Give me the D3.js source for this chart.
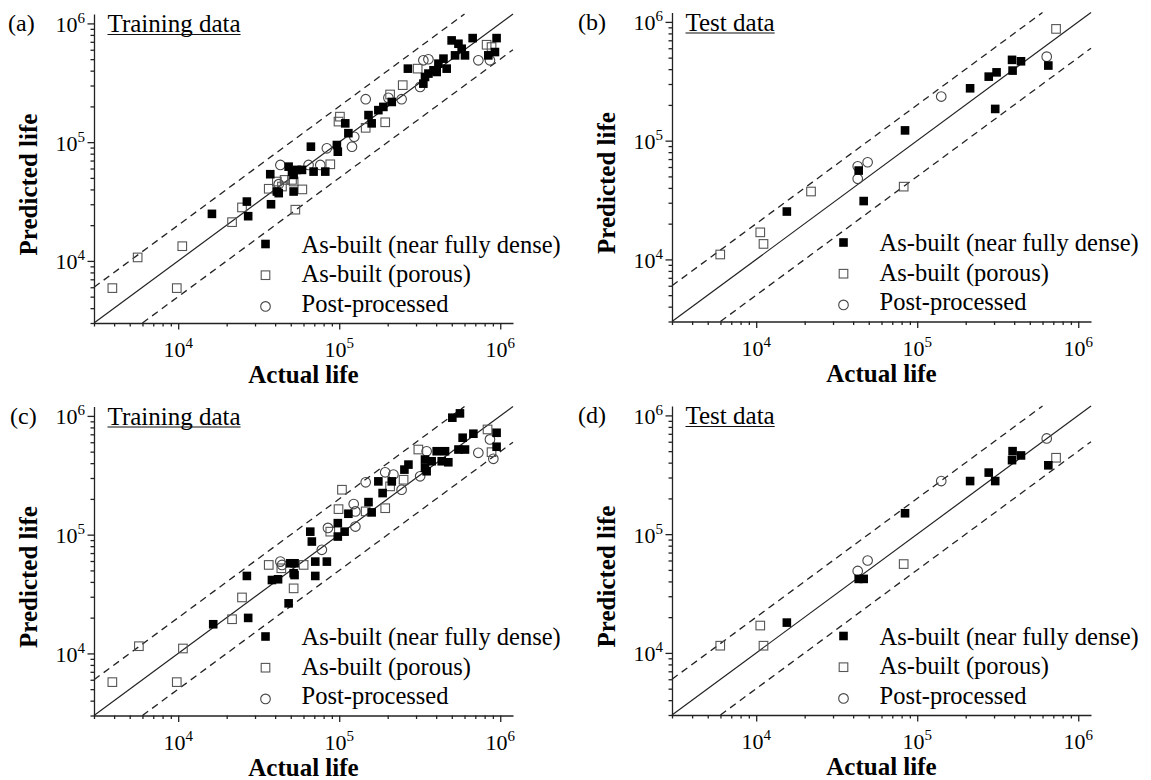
<!DOCTYPE html>
<html lang="en">
<head>
<meta charset="UTF-8">
<title>Actual vs predicted life</title>
<script src="https://d3js.org/d3.v7.min.js"></script>
<style>
  body { margin: 0; background: #fff; }
  svg text { font-family: "Liberation Serif", "Times New Roman", Times, "DejaVu Serif", serif; fill: #000; }
</style>
</head>
<body>
<svg id="chart" width="1151" height="780"></svg>
<script>
// each point is [actual life, predicted life] (cycles)

// (a) training data
var aDense = [[16200, 24900], [26700, 31600], [27200, 23800], [37700, 30000], [41000, 38400],
  [42100, 37200], [52100, 38400], [37300, 53700], [48500, 62200], [52100, 53000], [50900, 56500],
  [54600, 58400], [58700, 58400], [69300, 56500], [81900, 56500], [66700, 91600], [96700, 94600],
  [98000, 83100], [114000, 119000], [109000, 144000], [152000, 169000], [159000, 144000],
  [175000, 186000], [188000, 198000], [212000, 218000], [267000, 416000], [333000, 311000],
  [341000, 354000], [358000, 378000], [385000, 403000], [403000, 390000], [413000, 458000],
  [444000, 505000], [465000, 416000], [499000, 719000], [550000, 674000], [576000, 612000],
  [524000, 538000], [604000, 538000], [674000, 752000], [949000, 752000], [927000, 574000],
  [843000, 538000]];
var aPorous = [[3900, 5900], [5600, 10700], [9800, 5900], [10600, 13300], [21600, 21200],
  [24900, 28200], [36500, 40500], [53400, 27000], [52100, 46600], [41000, 46600], [45800, 48100],
  [50900, 48100], [44100, 42300], [59000, 40000], [88000, 65100], [101000, 164000], [99000, 149000],
  [146000, 132000], [193000, 147000], [207000, 252000], [248000, 302000], [307000, 416000],
  [823000, 661000], [883000, 632000]];
var aPost = [[42100, 44300], [43100, 64300], [64500, 64300], [76300, 64300], [83800, 88700],
  [120000, 91600], [124000, 111000], [146000, 230000], [202000, 236000], [244000, 230000],
  [318000, 292000], [333000, 489000], [358000, 499000], [731000, 489000], [863000, 489000]];

// (b) test data
var bDense = [[15500, 25300], [43300, 56000], [46500, 31000], [84000, 122000], [213000, 276000],
  [278000, 346000], [311000, 376000], [305000, 185000], [388000, 479000], [441000, 466000],
  [391000, 389000], [652000, 429000]];
var bPorous = [[5980, 11000], [10600, 16900], [11100, 13500], [21900, 37300], [82400, 41000],
  [728000, 873000]];
var bPost = [[42700, 47700], [42700, 60800], [49200, 65800], [141000, 235000], [637000, 510000]];

// (c) training data
var cDense = [[16500, 17600], [27200, 19900], [26700, 44900], [38200, 41500], [41700, 42100],
  [49700, 57400], [52800, 57400], [52800, 45700], [48500, 26400], [67600, 87500], [71000, 59300],
  [83800, 59300], [52100, 47300], [71000, 44900], [66100, 106000], [98000, 96400], [108000, 106000],
  [98000, 125000], [114000, 150000], [152000, 188000], [159000, 154000], [186000, 224000],
  [175000, 281000], [212000, 281000], [254000, 353000], [269000, 389000], [341000, 429000],
  [349000, 342000], [341000, 365000], [375000, 415000], [433000, 415000], [476000, 407000],
  [403000, 504000], [454000, 504000], [550000, 521000], [604000, 521000], [584000, 655000],
  [681000, 708000], [504000, 966000], [562000, 1050000], [949000, 721000], [949000, 550000]];
var cPorous = [[3900, 5730], [5700, 11500], [9800, 5730], [10700, 11000], [21600, 19400],
  [24900, 29600], [36500, 55600], [43700, 52100], [52100, 35300], [60100, 55600], [88000, 106000],
  [104000, 239000], [99000, 164000], [146000, 157000], [193000, 167000], [207000, 255000],
  [251000, 290000], [310000, 521000], [834000, 769000], [883000, 495000]];
var cPost = [[43100, 59300], [44100, 55600], [78000, 74500], [85100, 114000], [126000, 117000],
  [123000, 181000], [126000, 157000], [146000, 276000], [193000, 335000], [217000, 321000],
  [244000, 239000], [318000, 310000], [349000, 504000], [731000, 489000], [863000, 634000],
  [906000, 435000]];

// (d) test data
var dDense = [[15500, 18000], [43300, 42000], [46500, 42000], [84000, 150000], [213000, 280000],
  [278000, 330000], [305000, 280000], [388000, 420000], [391000, 500000], [441000, 460000],
  [652000, 380000]];
var dPorous = [[5980, 11500], [10600, 17000], [11100, 11500], [82400, 56000], [728000, 440000]];
var dPost = [[42700, 49000], [49200, 60000], [141000, 280000], [637000, 640000]];

var legendNames = ["As-built (near fully dense)", "As-built (porous)", "Post-processed"];
var lifeRange = [3000, 1.2e6];

// plot area size, same for all four panels
var W = 419, H = 309;

var panels = [
  {tag: "(a)", title: "Training data", left: 94, top: 14, tagDx: -86, series: [aDense, aPorous, aPost]},
  {tag: "(b)", title: "Test data", left: 672, top: 12.5, tagDx: -94, series: [bDense, bPorous, bPost]},
  {tag: "(c)", title: "Training data", left: 94, top: 406.5, tagDx: -84, series: [cDense, cPorous, cPost]},
  {tag: "(d)", title: "Test data", left: 672, top: 406, tagDx: -94, series: [dDense, dPorous, dPost]}
];

var svg = d3.select("#chart");
svg.append("rect").attr("width", 1151).attr("height", 780).attr("fill", "#fff");

var x = d3.scaleLog().domain(lifeRange).range([0, W]);
var y = d3.scaleLog().domain(lifeRange).range([H, 0]);
var isMajor = function(v) { return Math.abs(Math.log10(v) - Math.round(Math.log10(v))) < 1e-9; };
var line = d3.line().x(function(d) { return x(d[0]); }).y(function(d) { return y(d[1]); });

// marker drawing: 0 = filled square, 1 = open square, 2 = open circle
function marker(sel, kind) {
  var s = 8.6;
  if (kind == 2) {
    sel.append("circle").attr("r", 4.8)
      .attr("fill", "none").attr("stroke", "#444").attr("stroke-width", 1.1);
  } else {
    sel.append("rect").attr("x", -s / 2).attr("y", -s / 2).attr("width", s).attr("height", s)
      .attr("fill", kind == 0 ? "#000" : "none")
      .attr("stroke", kind == 0 ? "none" : "#555").attr("stroke-width", 1.1);
  }
}

panels.forEach(function(p) {
  var g = svg.append("g").attr("transform", "translate(" + p.left + "," + p.top + ")");

  // 1:1 line and factor-of-two band
  g.append("path").attr("d", line([[lifeRange[0], lifeRange[0]], [lifeRange[1], lifeRange[1]]]))
    .attr("stroke", "#222").attr("stroke-width", 1.2).attr("fill", "none");
  g.append("path").attr("d", line([[lifeRange[0], lifeRange[0] * 2], [lifeRange[1] / 2, lifeRange[1]]]))
    .attr("stroke", "#222").attr("stroke-width", 1.3).attr("stroke-dasharray", "7,5").attr("fill", "none");
  g.append("path").attr("d", line([[lifeRange[0] * 2, lifeRange[0]], [lifeRange[1], lifeRange[1] / 2]]))
    .attr("stroke", "#222").attr("stroke-width", 1.3).attr("stroke-dasharray", "7,5").attr("fill", "none");

  // axes (left and bottom only)
  var xa = g.append("g").attr("transform", "translate(0," + H + ")")
    .call(d3.axisBottom(x).tickValues(x.ticks()).tickSize(3.5).tickSizeOuter(0).tickFormat(""));
  xa.selectAll(".tick").filter(isMajor).select("line").attr("y2", 6.5);
  var ya = g.append("g")
    .call(d3.axisLeft(y).tickValues(y.ticks()).tickSize(3.5).tickSizeOuter(0).tickFormat(""));
  ya.selectAll(".tick").filter(isMajor).select("line").attr("x2", -6.5);
  g.selectAll(".domain, .tick line").attr("stroke", "#222").attr("stroke-width", 1.3);

  var majors = x.ticks().filter(isMajor);
  majors.forEach(function(v) {
    var t = g.append("text").attr("x", x(v)).attr("y", H + 34).attr("text-anchor", "middle")
      .attr("font-size", 22);
    t.append("tspan").text("10");
    t.append("tspan").attr("dy", -9).attr("font-size", 15).text(Math.round(Math.log10(v)));
    var u = g.append("text").attr("x", -9).attr("y", y(v) + 8.5).attr("text-anchor", "end")
      .attr("font-size", 22);
    u.append("tspan").text("10");
    u.append("tspan").attr("dy", -9).attr("font-size", 15).text(Math.round(Math.log10(v)));
  });

  // axis titles
  g.append("text").attr("x", W / 2).attr("y", H + 60).attr("text-anchor", "middle")
    .attr("font-size", 25).attr("font-weight", "bold").text("Actual life");
  g.append("text").attr("transform", "translate(-57," + (H / 2 + 16) + ") rotate(-90)")
    .attr("text-anchor", "middle").attr("font-size", 25).attr("font-weight", "bold").text("Predicted life");

  // panel tag and underlined title
  g.append("text").attr("x", p.tagDx).attr("y", 17).attr("font-size", 24).text(p.tag);
  var title = g.append("text").attr("x", 13.5).attr("y", 18).attr("font-size", 25).text(p.title);
  var tw = title.node().getComputedTextLength();
  g.append("line").attr("x1", 13.5).attr("x2", 13.5 + tw).attr("y1", 20.5).attr("y2", 20.5)
    .attr("stroke", "#111").attr("stroke-width", 1.2);

  // data points
  [2, 1, 0].forEach(function(k) {
    g.append("g").selectAll("g").data(p.series[k]).join("g")
      .attr("transform", function(d) { return "translate(" + x(d[0]) + "," + y(d[1]) + ")"; })
      .each(function() { marker(d3.select(this), k); });
  });

  // legend
  legendNames.forEach(function(name, i) {
    var m = g.append("g").attr("transform", "translate(171.5," + (H - 79 + i * 31.2) + ")");
    marker(m, i);
    g.append("text").attr("x", 207.5).attr("y", H - 70.5 + i * 29.5).attr("font-size", 24.5).text(name);
  });
});
</script>
</body>
</html>
